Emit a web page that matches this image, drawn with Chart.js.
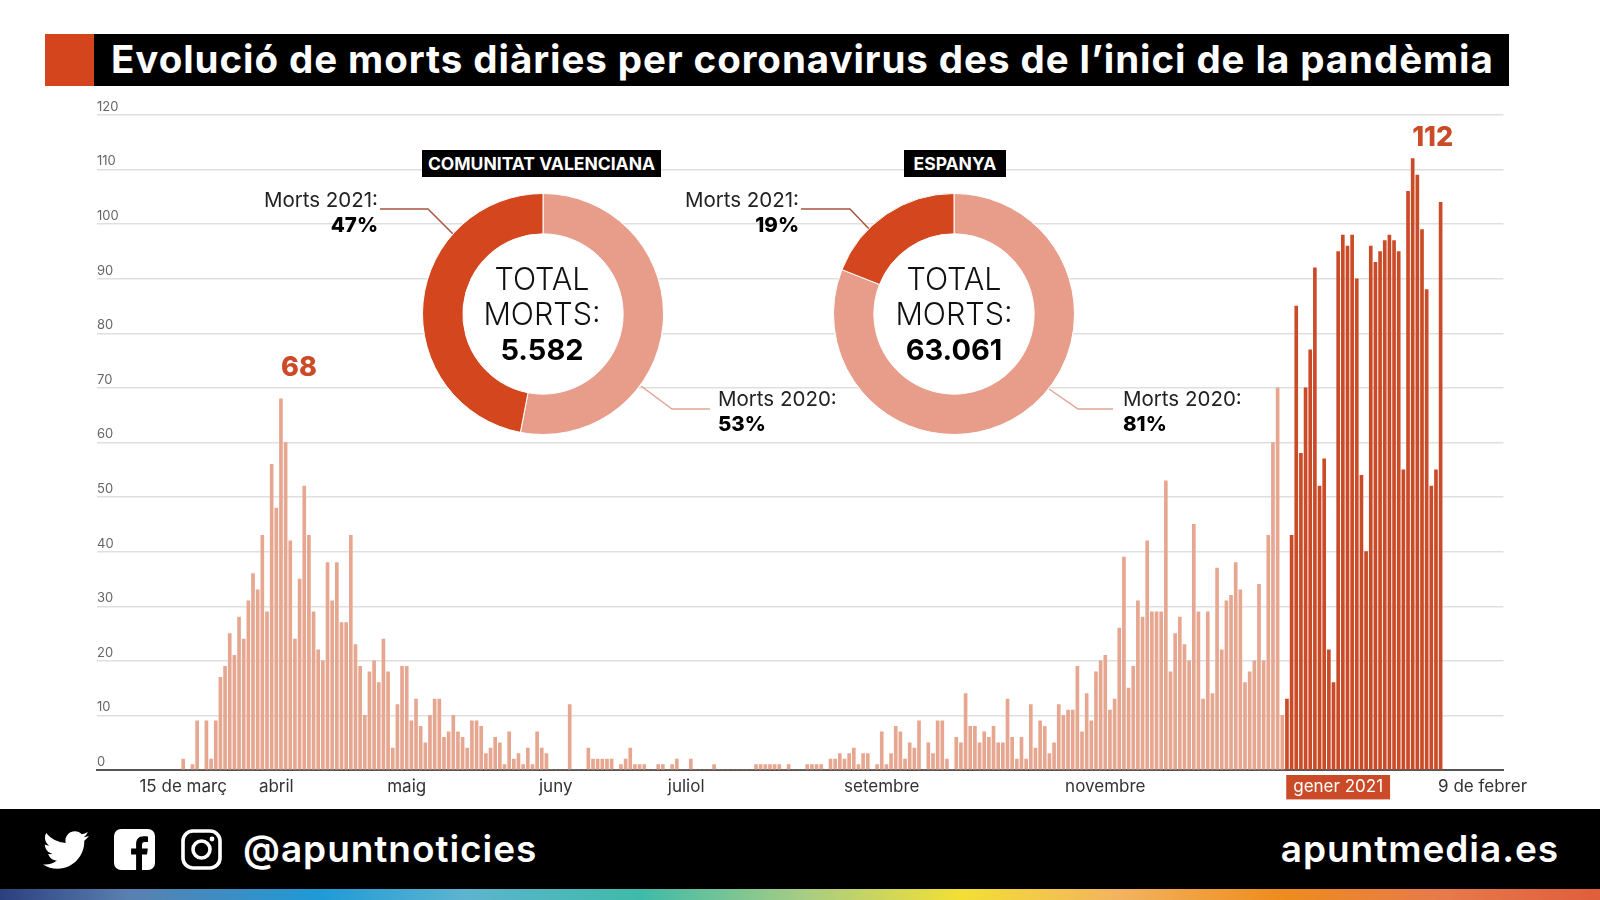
<!DOCTYPE html>
<html lang="ca">
<head>
<meta charset="utf-8">
<title>Evolució de morts diàries</title>
<script src="https://cdn.jsdelivr.net/npm/chart.js@4"></script>
<style>
  html,body{margin:0;padding:0;background:#fff;}
  body{width:1600px;height:900px;overflow:hidden;position:relative;font-family:Inter,"Noto Sans",sans-serif;color:#111;}
  canvas{position:absolute;}
  .abs{position:absolute;white-space:nowrap;}
  #banner{left:45px;top:34px;width:1464px;height:52px;background:#000;}
  #bannerMark{left:45px;top:34px;width:49px;height:52px;background:#d4451e;}
  #title{left:111px;top:34px;height:52px;line-height:50px;color:#fff;font-weight:700;font-size:38.5px;letter-spacing:.93px;}
  .badge{top:150px;height:27px;line-height:27px;background:#000;color:#fff;font-weight:700;font-size:17.5px;text-align:center;}
  .note{font-size:20.5px;line-height:25px;color:#222;}
  .note b{color:#000;font-weight:800;}
  .right{text-align:right;}
  .total{width:170px;text-align:center;font-size:30.5px;line-height:35px;font-weight:300;color:#111;}
  .total b{font-weight:700;font-size:29px;color:#000;}
  #leaders{position:absolute;left:0;top:0;}
  #footer{left:0;top:809px;width:1600px;height:80px;background:#000;}
  #rainbow{left:0;top:889px;width:1600px;height:11px;background:linear-gradient(90deg,#2b3f7f 0%,#5a80b0 8%,#1f9ad6 20%,#5db4cf 29%,#3fbaa9 40%,#a5cc85 50%,#f3df34 60%,#f2b35f 70%,#ee8c1d 80%,#e77a4b 90%,#df5e3c 100%);}
  .social{color:#fff;font-weight:600;font-size:37px;letter-spacing:.95px;line-height:44px;top:827px;}
</style>
</head>
<body>
<canvas id="barChart" width="1600" height="900" style="left:0;top:0"></canvas>

<div class="abs" id="banner"></div>
<div class="abs" id="bannerMark"></div>
<div class="abs" id="title">Evolució de morts diàries per coronavirus des de l’inici de la pandèmia</div>

<svg id="leaders" width="1600" height="900" fill="none" stroke-width="1.5">
  <polyline points="380,209 428,209 453,234" stroke="#a8543f"/>
  <polyline points="641,386 672,409 710,409" stroke="#e0a593"/>
  <polyline points="801,209 850,209 871,231" stroke="#a8543f"/>
  <polyline points="1049,389 1078,409 1113,409" stroke="#e0a593"/>
</svg>

<canvas id="donutCV" width="242" height="242" style="left:421.500px;top:193px"></canvas>
<canvas id="donutES" width="242" height="242" style="left:833px;top:193px"></canvas>

<div class="abs badge" style="left:422px;width:239px">COMUNITAT VALENCIANA</div>
<div class="abs badge" style="left:904px;width:102px">ESPANYA</div>

<div class="abs total" style="left:457px;top:261px">TOTAL<br>MORTS:<br><b>5.582</b></div>
<div class="abs total" style="left:869px;top:261px">TOTAL<br>MORTS:<br><b>63.061</b></div>

<div class="abs note right" style="left:228px;width:150px;top:187px">Morts 2021:<br><b>47%</b></div>
<div class="abs note" style="left:718px;top:386px">Morts 2020:<br><b>53%</b></div>
<div class="abs note right" style="left:649px;width:150px;top:187px">Morts 2021:<br><b>19%</b></div>
<div class="abs note" style="left:1123px;top:386px">Morts 2020:<br><b>81%</b></div>

<div class="abs" id="footer"></div>
<div class="abs" id="rainbow"></div>
<svg class="abs" style="left:43px;top:827px" width="46" height="46" viewBox="0 0 512 512" fill="#fff"><path d="M459.37 151.716c.325 4.548.325 9.097.325 13.645 0 138.72-105.583 298.558-298.558 298.558-59.452 0-114.68-17.219-161.137-47.106 8.447.974 16.568 1.299 25.34 1.299 49.055 0 94.213-16.568 130.274-44.832-46.132-.975-84.792-31.188-98.112-72.772 6.498.974 12.995 1.624 19.818 1.624 9.421 0 18.843-1.3 27.614-3.573-48.081-9.747-84.143-51.98-84.143-102.985v-1.299c13.969 7.797 30.214 12.67 47.431 13.319-28.264-18.843-46.781-51.005-46.781-87.391 0-19.492 5.197-37.36 14.294-52.954 51.655 63.675 129.3 105.258 216.365 109.807-1.624-7.797-2.599-15.918-2.599-24.04 0-57.828 46.782-104.934 104.934-104.934 30.213 0 57.502 12.67 76.67 33.137 23.715-4.548 46.456-13.32 66.599-25.34-7.798 24.366-24.366 44.833-46.132 57.827 21.117-2.273 41.584-8.122 60.426-16.243-14.292 20.791-32.161 39.308-52.628 54.253z"/></svg>
<svg class="abs" style="left:114px;top:829px" width="41" height="41" viewBox="0 0 41 41"><rect width="41" height="41" rx="7" fill="#fff"/><path d="M28 41V25.5h5l.8-6H28v-3.6c0-1.8.6-2.9 3-2.9h3V7.6c-.6-.1-2.400-.3-4.400-.3-4.500 0-7.500 2.700-7.500 7.700v4.500h-5v6h5V41z" fill="#000"/></svg>
<svg class="abs" style="left:181px;top:829px" width="41" height="41" viewBox="0 0 41 41" fill="none" stroke="#fff" stroke-width="3.600"><rect x="2" y="2" width="37" height="37" rx="10"/><circle cx="20.500" cy="20.500" r="8.500"/><circle cx="31" cy="10" r="2.400" fill="#fff" stroke="none"/></svg>
<div class="abs social" style="left:243px">@apuntnoticies</div>
<div class="abs social" style="right:41px">apuntmedia.es</div>

<script>
// daily deaths, first bar = 15 de març
const deaths2020 = [
  2,0,1,9,0,9,2,9,17,19,25,21,28,24,31,36,33,43,29,56,48,68,60,42,24,35,52,43,29,22,
  20,38,31,38,27,27,43,23,19,10,18,20,16,24,18,4,12,19,19,9,13,8,5,10,
  13,13,6,7,10,7,6,4,9,9,8,3,4,6,5,1,7,2,3,1,4,1,7,4,3,
  0,0,0,0,12,0,0,0,4,2,2,2,2,2,0,1,2,4,1,1,1,0,0,1,1,0,1,2,0,0,2,0,0,0,0,1,
  0,0,0,0,0,0,0,0,1,1,1,1,1,1,0,1,0,0,0,1,1,1,1,
  0,2,2,3,2,3,4,1,3,3,0,1,7,1,3,8,7,2,5,4,9,0,5,3,9,9,2,0,6,5,14,8,8,5,7,6,8,5,5,13,
  6,2,6,2,12,4,9,8,3,5,12,10,11,11,19,7,14,9,18,20,21,11,13,26,39,15,19,31,28,42,
  29,29,29,53,18,25,28,23,20,45,29,13,29,14,37,22,31,32,38,33,16,18,20,34,20,43,60,70,10
];
const deaths2021 = [
  13,43,85,58,70,77,92,52,57,22,16,95,98,96,98,90,54,40,96,93,95,97,98,97,95,55,106,112,109,99,88,52,55,104
];
const peakValues = [68,112];
const tickLabels = ['15 de març','abril','maig','juny','juliol','setembre','novembre','gener 2021','9 de febrer'];
const tickSlots = [18,38,66,98,126,168,216,266,297];
const slotCount = 302;
const leadingSlots = 18;

const donutLabels = ['Morts 2020','Morts 2021'];
const donutCV = [53,47];
const donutES = [81,19];

const LIGHT = '#e6a68f';
const DARK = '#cb4b28';
const gener = tickLabels.indexOf('gener 2021');

const categories = [];
for(let i=0;i<slotCount;i++){
  const t = tickSlots.indexOf(i);
  categories.push(t>=0 ? tickLabels[t] : '');
}
const pad = n => new Array(n).fill(null);

Chart.defaults.font.family = 'Inter, "Noto Sans", sans-serif';
Chart.defaults.animation = false;

// big red numbers over the two peaks
const peakLabels = {
  id:'peakLabels',
  afterDatasetsDraw(chart){
    const ctx = chart.ctx;
    const shift = [[18,-31],[20,-21]];
    chart.data.datasets.forEach((ds,d)=>{
      const el = chart.getDatasetMeta(d).data[ds.data.indexOf(peakValues[d])];
      ctx.save();
      ctx.font = '800 27px Inter';
      ctx.fillStyle = DARK;
      ctx.textAlign = 'center';
      ctx.textBaseline = 'middle';
      ctx.fillText(String(peakValues[d]), el.x+shift[d][0], el.y+shift[d][1]);
      ctx.restore();
    });
  }
};

new Chart(document.getElementById('barChart'),{
  type:'bar',
  data:{
    labels:categories,
    datasets:[
      {label:'2020',data:pad(leadingSlots).concat(deaths2020),backgroundColor:LIGHT,barThickness:3,grouped:false},
      {label:'2021',data:pad(leadingSlots+deaths2020.length).concat(deaths2021),backgroundColor:DARK,barThickness:3,grouped:false}
    ]
  },
  options:{
    responsive:false,
    layout:{padding:{left:97,right:96.5,top:115,bottom:100}},
    plugins:{legend:{display:false},tooltip:{enabled:false}},
    scales:{
      x:{
        grid:{display:false,drawTicks:false},
        border:{display:true,color:'#555',width:2},
        afterFit(scale){ scale.height = 30; },
        ticks:{
          autoSkip:false,maxRotation:0,minRotation:0,padding:7,
          font:{size:17},
          color:ctx=>ctx.index===tickSlots[gener]?'#fff':'#333',
          showLabelBackdrop:ctx=>ctx.index===tickSlots[gener],
          backdropColor:DARK,
          backdropPadding:{x:7,y:2}
        }
      },
      y:{
        min:0,max:120,
        grid:{color:'#dfdfdf',lineWidth:1.5,drawTicks:false},
        border:{display:false},
        afterFit(scale){ scale.width = 0; },
        ticks:{mirror:true,padding:0,labelOffset:-8,stepSize:10,color:'#666',font:{size:13}}
      }
    }
  },
  plugins:[peakLabels]
});

// white hole so the grid lines do not show through the rings
const whiteHole = {
  id:'whiteHole',
  beforeDatasetsDraw(chart){
    const arc = chart.getDatasetMeta(0).data[0];
    const ctx = chart.ctx;
    ctx.save();
    ctx.fillStyle = '#fff';
    ctx.beginPath();
    ctx.arc(arc.x,arc.y,arc.innerRadius+1,0,Math.PI*2);
    ctx.fill();
    ctx.restore();
  }
};

function donut(id,values){
  new Chart(document.getElementById(id),{
    type:'doughnut',
    data:{labels:donutLabels,datasets:[{data:values,backgroundColor:['#e89d8a','#d4461d'],borderColor:'#fff',borderWidth:1}]},
    options:{responsive:false,cutout:'66.5%',plugins:{legend:{display:false},tooltip:{enabled:false}}},
    plugins:[whiteHole]
  });
}
donut('donutCV',donutCV);
donut('donutES',donutES);
</script>
</body>
</html>
